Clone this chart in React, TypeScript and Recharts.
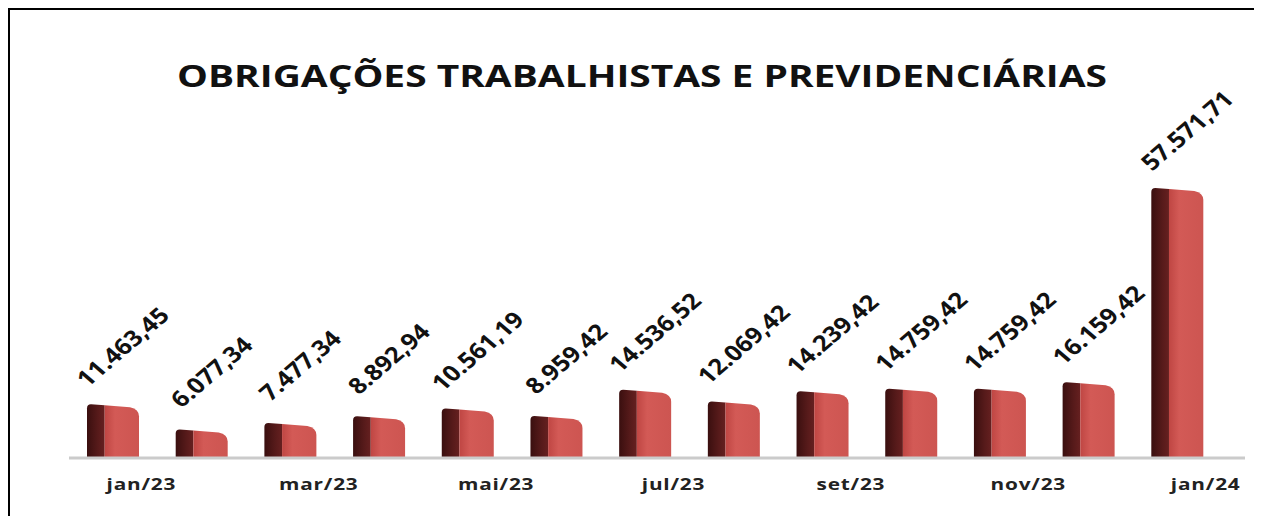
import React from "react";
import { BarChart, Bar, XAxis, YAxis, LabelList } from "recharts";

const months = [
  "jan/23", "fev/23", "mar/23", "abr/23", "mai/23", "jun/23", "jul/23",
  "ago/23", "set/23", "out/23", "nov/23", "dez/23", "jan/24",
];
const values = [
  11463.45, 6077.34, 7477.34, 8892.94, 10561.19, 8959.42, 14536.52,
  12069.42, 14239.42, 14759.42, 14759.42, 16159.42, 57571.71,
];

const data = months.map((m, i) => ({ mes: m, valor: values[i] }));

// 11463.45 -> "11.463,45"
const fmt = (v: number) => {
  const [int, dec] = v.toFixed(2).split(".");
  return int.replace(/\B(?=(\d{3})+(?!\d))/g, ".") + "," + dec;
};

const FONT = "'Open Sans', sans-serif";

// cylinder-ish 3D bar: dark left side, red front, curved top
const Bar3D = (props: any) => {
  const { x, y, width: w, height: h, index } = props;
  if (!h || h <= 0) return null;
  const d = w * 0.34;
  const dk = `dk-${index}`;
  const fr = `fr-${index}`;
  return (
    <g>
      <defs>
        <linearGradient id={dk} x1="0" y1="0" x2="1" y2="0">
          <stop offset="0" stopColor="#3a0f0f" />
          <stop offset="0.6" stopColor="#561a1a" />
          <stop offset="1" stopColor="#662020" />
        </linearGradient>
        <linearGradient id={fr} x1="0" y1="0" x2="1" y2="0">
          <stop offset="0" stopColor="#bf4643" />
          <stop offset="0.3" stopColor="#d35a56" />
          <stop offset="1" stopColor="#cd5551" />
        </linearGradient>
      </defs>
      <path
        d={`M${x},${y + 4} Q${x},${y} ${x + 4},${y} L${x + d},${y + 1} L${x + d},${y + h} L${x},${y + h} Z`}
        fill={`url(#${dk})`}
      />
      <path
        d={`M${x + d},${y + 1} L${x + w - 9},${y + 3} Q${x + w},${y + 5} ${x + w},${y + 12} L${x + w},${y + h} L${x + d},${y + h} Z`}
        fill={`url(#${fr})`}
      />
    </g>
  );
};

const ValueLabel = (props: any) => {
  const { x, y, width, value } = props;
  const cx = x + width / 2 + 9;
  const cy = y - 58;
  return (
    <text
      transform={`translate(${cx},${cy}) scale(1.17,1) rotate(-45)`}
      textAnchor="middle"
      dominantBaseline="central"
      fontFamily={FONT}
      fontWeight={700}
      fontSize={22}
      fill="#111"
    >
      {fmt(value)}
    </text>
  );
};

const MonthTick = (props: any) => {
  const { x, y, payload } = props;
  return (
    <text
      transform={`translate(${x + 28},${y + 32}) scale(1.3,1)`}
      textAnchor="middle"
      fontFamily={FONT}
      fontWeight={700}
      fontSize={16}
      letterSpacing={0.6}
      fill="#222"
    >
      {payload.value}
    </text>
  );
};

export default function App() {
  return (
    <div
      style={{
        position: "relative",
        width: 1246,
        height: 508,
        boxSizing: "border-box",
        borderTop: "2px solid #000",
        borderLeft: "2px solid #000",
        background: "#fff",
        overflow: "hidden",
      }}
    >
      <div style={{ position: "absolute", left: 0, top: 0 }}>
        <BarChart
          width={1244}
          height={506}
          data={data}
          margin={{ top: 166.6, right: 9, bottom: 28, left: 59 }}
          style={{ outline: "none" }}
          accessibilityLayer={false}
        >
          <XAxis
            dataKey="mes"
            interval={1}
            height={30}
            tickLine={false}
            tickSize={0}
            tickMargin={0}
            axisLine={{ stroke: "#cbcbcb", strokeWidth: 3 }}
            padding={{ left: 0, right: 23 }}
            tick={<MonthTick />}
          />
          <YAxis hide domain={[0, 60000]} />
          <Bar
            dataKey="valor"
            barSize={52}
            shape={<Bar3D />}
            isAnimationActive={false}
          >
            <LabelList dataKey="valor" content={<ValueLabel />} />
          </Bar>
        </BarChart>
      </div>
      <svg
        width={1244}
        height={120}
        style={{ position: "absolute", left: 0, top: 0, pointerEvents: "none" }}
      >
        <text
          x={632}
          y={77}
          textAnchor="middle"
          fontFamily={FONT}
          fontWeight={700}
          fontSize={30}
          textLength={930}
          lengthAdjust="spacingAndGlyphs"
          fill="#111"
        >
          OBRIGAÇÕES TRABALHISTAS E PREVIDENCIÁRIAS
        </text>
      </svg>
    </div>
  );
}
